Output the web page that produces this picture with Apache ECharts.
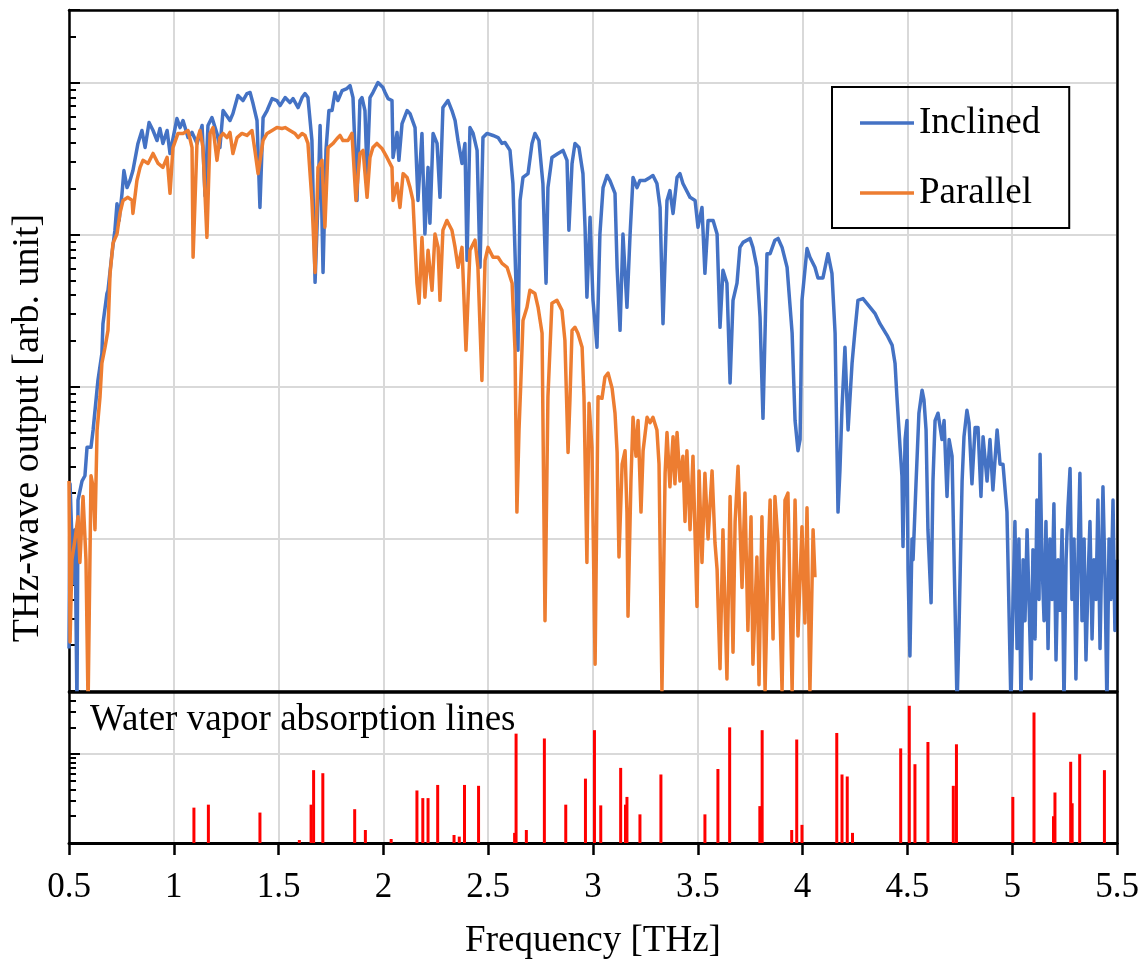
<!DOCTYPE html>
<html><head><meta charset="utf-8">
<script src="https://cdn.jsdelivr.net/npm/echarts@6/dist/echarts.min.js"></script>
<style>html,body{margin:0;padding:0;background:#fff}#c{width:1144px;height:965px}</style>
</head><body><div id="c"></div>
<script>
// ---------- data ----------
const freqInclined = [0.500,0.505,0.514,0.519,0.529,0.538,0.543,0.562,0.576,0.586,0.605,0.615,0.638,0.657,0.662,0.681,0.686,0.705,0.719,0.729,0.739,0.753,0.762,0.777,0.791,0.805,0.829,0.848,0.863,0.882,0.901,0.920,0.934,0.948,0.968,0.982,1.015,1.030,1.044,1.068,1.087,1.111,1.135,1.149,1.163,1.182,1.206,1.220,1.235,1.268,1.282,1.306,1.330,1.349,1.364,1.378,1.397,1.411,1.426,1.445,1.469,1.492,1.507,1.531,1.554,1.569,1.593,1.612,1.626,1.640,1.659,1.674,1.688,1.698,1.712,1.726,1.740,1.755,1.769,1.783,1.803,1.826,1.841,1.855,1.874,1.888,1.898,1.912,1.922,1.936,1.950,1.974,1.998,2.008,2.022,2.041,2.046,2.065,2.074,2.089,2.113,2.127,2.151,2.165,2.184,2.198,2.213,2.222,2.237,2.256,2.270,2.284,2.308,2.327,2.342,2.356,2.375,2.389,2.399,2.413,2.428,2.447,2.461,2.475,2.494,2.523,2.547,2.566,2.580,2.604,2.618,2.642,2.652,2.666,2.690,2.709,2.723,2.742,2.761,2.776,2.785,2.804,2.833,2.857,2.876,2.885,2.900,2.914,2.933,2.952,2.962,2.971,2.986,3.000,3.019,3.033,3.048,3.067,3.081,3.105,3.115,3.129,3.143,3.162,3.177,3.191,3.210,3.224,3.248,3.272,3.286,3.305,3.320,3.334,3.353,3.367,3.382,3.401,3.415,3.429,3.463,3.487,3.501,3.520,3.534,3.549,3.573,3.592,3.606,3.620,3.639,3.654,3.668,3.687,3.701,3.716,3.749,3.763,3.782,3.797,3.811,3.830,3.845,3.868,3.883,3.902,3.926,3.950,3.964,3.978,3.988,3.997,4.021,4.035,4.059,4.073,4.097,4.121,4.140,4.155,4.169,4.178,4.188,4.202,4.217,4.236,4.250,4.264,4.288,4.322,4.345,4.369,4.403,4.427,4.441,4.450,4.465,4.474,4.479,4.489,4.498,4.503,4.512,4.522,4.527,4.541,4.555,4.570,4.579,4.589,4.598,4.613,4.622,4.632,4.646,4.665,4.675,4.689,4.699,4.713,4.723,4.737,4.746,4.761,4.770,4.784,4.794,4.808,4.823,4.837,4.851,4.861,4.880,4.894,4.908,4.928,4.942,4.956,4.975,4.980,4.994,5.004,5.013,5.023,5.032,5.042,5.052,5.061,5.071,5.080,5.090,5.099,5.109,5.118,5.128,5.133,5.142,5.152,5.161,5.171,5.180,5.190,5.199,5.209,5.219,5.228,5.238,5.247,5.257,5.266,5.276,5.285,5.295,5.304,5.314,5.323,5.333,5.343,5.352,5.362,5.371,5.381,5.390,5.400,5.409,5.419,5.433,5.443,5.452,5.462,5.471,5.481,5.490,5.500];
const inclined = [0.00019,0.0023,0.001,0.00051,0.00115,0.00008,0.0018,0.0024,0.0026,0.004,0.004,0.0052,0.011,0.0166,0.026,0.041,0.043,0.075,0.107,0.160,0.124,0.187,0.264,0.204,0.227,0.264,0.398,0.484,0.374,0.546,0.484,0.416,0.499,0.398,0.484,0.342,0.58,0.506,0.563,0.435,0.47,0.398,0.522,0.18,0.522,0.589,0.463,0.374,0.655,0.563,0.625,0.822,0.762,0.847,0.86,0.728,0.563,0.151,0.589,0.655,0.785,0.762,0.706,0.797,0.739,0.785,0.685,0.797,0.847,0.797,0.416,0.0486,0.168,0.522,0.0565,0.358,0.655,0.655,0.86,0.762,0.886,0.913,0.955,0.797,0.168,0.762,0.797,0.655,0.252,0.797,0.86,1.0,0.927,0.86,0.785,0.762,0.322,0.47,0.308,0.538,0.655,0.625,0.506,0.168,0.463,0.101,0.277,0.119,0.463,0.398,0.176,0.685,0.762,0.655,0.563,0.416,0.294,0.398,0.0678,0.506,0.463,0.358,0.061,0.435,0.463,0.449,0.435,0.398,0.404,0.358,0.217,0.0174,0.168,0.238,0.252,0.398,0.463,0.416,0.217,0.048,0.204,0.322,0.342,0.358,0.308,0.107,0.294,0.398,0.374,0.252,0.112,0.0388,0.13,0.037,0.0182,0.101,0.204,0.245,0.227,0.187,0.061,0.0235,0.101,0.0333,0.101,0.238,0.204,0.227,0.227,0.238,0.245,0.217,0.151,0.026,0.168,0.195,0.138,0.238,0.252,0.217,0.176,0.168,0.112,0.151,0.0557,0.124,0.124,0.101,0.0246,0.0583,0.048,0.0106,0.037,0.048,0.0825,0.089,0.0945,0.0825,0.061,0.0287,0.0062,0.075,0.075,0.092,0.0945,0.0825,0.061,0.0225,0.006,0.0038,0.0045,0.037,0.081,0.071,0.061,0.052,0.052,0.075,0.0557,0.0225,0.0015,0.0028,0.0073,0.0182,0.0052,0.0143,0.0235,0.037,0.038,0.0333,0.0304,0.026,0.0218,0.0188,0.0143,0.0086,0.004,0.0026,0.00089,0.0045,0.006,0.00063,0.00017,0.001,0.00073,0.0023,0.0067,0.0095,0.0082,0.0052,0.00115,0.00038,0.0024,0.006,0.0067,0.0045,0.006,0.0019,0.0045,0.0035,0.0007,0.00008,0.00025,0.0024,0.0047,0.007,0.0058,0.0023,0.0054,0.0054,0.0019,0.0047,0.0024,0.0045,0.0021,0.0052,0.0031,0.0031,0.0015,0.0007,0.00008,0.0004,0.0013,0.00019,0.001,0.00008,0.00073,0.00029,0.00115,0.0004,0.00012,0.00085,0.00022,0.0018,0.0004,0.0036,0.00073,0.00029,0.0013,0.00019,0.001,0.0004,0.0017,0.00016,0.00073,0.00034,0.00115,0.00008,0.00073,0.0016,0.0029,0.0004,0.001,0.00012,0.00073,0.0027,0.00029,0.001,0.00016,0.00054,0.0013,0.00022,0.00073,0.0004,0.0018,0.00019,0.0022,0.00054,0.00008,0.001,0.0004,0.0018,0.00025,0.00073];

const freqParallel = [0.500,0.505,0.514,0.529,0.543,0.552,0.567,0.581,0.591,0.600,0.605,0.615,0.624,0.634,0.648,0.657,0.672,0.686,0.696,0.710,0.729,0.743,0.758,0.781,0.801,0.805,0.824,0.839,0.853,0.877,0.901,0.925,0.948,0.968,0.982,0.996,1.020,1.044,1.068,1.087,1.092,1.111,1.125,1.139,1.158,1.173,1.187,1.206,1.220,1.235,1.254,1.268,1.282,1.302,1.325,1.349,1.373,1.387,1.402,1.426,1.445,1.469,1.492,1.516,1.531,1.554,1.578,1.593,1.612,1.626,1.640,1.659,1.674,1.688,1.707,1.721,1.736,1.760,1.779,1.793,1.807,1.831,1.850,1.869,1.888,1.903,1.922,1.936,1.950,1.969,1.993,2.017,2.041,2.046,2.065,2.079,2.094,2.113,2.127,2.141,2.160,2.170,2.184,2.198,2.213,2.232,2.246,2.261,2.270,2.284,2.303,2.327,2.342,2.356,2.375,2.394,2.413,2.437,2.451,2.470,2.485,2.499,2.523,2.547,2.566,2.590,2.614,2.628,2.637,2.647,2.656,2.666,2.685,2.699,2.723,2.738,2.757,2.771,2.785,2.804,2.828,2.852,2.866,2.881,2.890,2.900,2.914,2.928,2.948,2.957,2.971,2.981,2.995,3.010,3.024,3.043,3.057,3.072,3.091,3.105,3.115,3.124,3.139,3.153,3.162,3.167,3.181,3.191,3.205,3.215,3.229,3.239,3.258,3.272,3.286,3.305,3.315,3.329,3.344,3.353,3.367,3.382,3.391,3.401,3.415,3.429,3.439,3.448,3.463,3.477,3.496,3.506,3.520,3.534,3.549,3.568,3.582,3.592,3.606,3.620,3.639,3.654,3.668,3.678,3.692,3.711,3.725,3.739,3.754,3.763,3.782,3.792,3.806,3.821,3.835,3.845,3.859,3.868,3.883,3.902,3.916,3.930,3.950,3.964,3.978,3.997,4.011,4.021,4.035,4.050,4.059];
const parallel = [0.0024,0.00021,0.00073,0.001,0.0014,0.0007,0.0019,0.00073,0.00008,0.00008,0.0026,0.0022,0.00115,0.0052,0.0086,0.0143,0.0182,0.0235,0.0557,0.088,0.101,0.138,0.168,0.176,0.168,0.138,0.227,0.277,0.308,0.294,0.342,0.294,0.277,0.322,0.187,0.374,0.463,0.463,0.484,0.374,0.071,0.416,0.484,0.374,0.096,0.463,0.506,0.308,0.435,0.463,0.435,0.47,0.342,0.435,0.463,0.449,0.484,0.358,0.252,0.416,0.463,0.484,0.506,0.499,0.506,0.484,0.463,0.435,0.463,0.449,0.398,0.168,0.0565,0.277,0.308,0.112,0.374,0.398,0.429,0.449,0.416,0.416,0.463,0.168,0.342,0.358,0.176,0.322,0.374,0.398,0.369,0.322,0.277,0.168,0.217,0.151,0.252,0.238,0.204,0.168,0.048,0.0354,0.096,0.0388,0.079,0.0431,0.101,0.0825,0.037,0.107,0.124,0.107,0.0825,0.061,0.0825,0.0174,0.079,0.092,0.061,0.011,0.0678,0.0825,0.071,0.071,0.0648,0.061,0.048,0.0174,0.0015,0.0052,0.011,0.0273,0.0333,0.0431,0.041,0.0333,0.0225,0.00029,0.0086,0.0354,0.037,0.0318,0.0202,0.0037,0.0082,0.0235,0.0246,0.0225,0.0182,0.0086,0.0007,0.0078,0.004,0.00015,0.0086,0.0084,0.0116,0.0123,0.0098,0.0067,0.0037,0.00076,0.0031,0.0038,0.0015,0.00031,0.0024,0.0063,0.0035,0.006,0.0015,0.0038,0.0063,0.0058,0.0063,0.0052,0.0031,0.0001,0.0027,0.005,0.0022,0.0047,0.0023,0.005,0.0024,0.0035,0.0013,0.0038,0.00115,0.0035,0.00036,0.0028,0.0007,0.0027,0.001,0.0028,0.00094,0.00063,0.00014,0.00115,0.00012,0.0019,0.00018,0.0013,0.003,0.00048,0.002,0.00025,0.0014,0.00015,0.00076,0.00011,0.0014,0.0001,0.00073,0.0018,0.00022,0.0019,0.00094,0.0001,0.0018,0.002,0.0001,0.0018,0.00023,0.0012,0.00028,0.0016,0.0001,0.00115,0.00056];

const waterLineFreq = [1.096,1.165,1.411,1.599,1.655,1.667,1.711,1.863,1.914,2.037,2.160,2.188,2.213,2.259,2.337,2.362,2.387,2.454,2.626,2.633,2.682,2.768,2.870,2.964,3.007,3.037,3.132,3.155,3.162,3.224,3.324,3.534,3.596,3.652,3.796,3.807,3.948,3.972,3.997,4.163,4.188,4.213,4.238,4.468,4.509,4.536,4.598,4.719,4.734,5.003,5.104,5.197,5.204,5.279,5.286,5.322,5.440];
const waterLineStrength = [2.5,2.7,2.2,1.08,2.7,6.6,6.1,2.4,1.4,1.11,3.9,3.2,3.2,4.5,1.23,1.18,4.5,4.4,1.3,17,1.4,15,2.7,5.3,18.6,2.65,7.0,2.7,3.3,2.1,5.9,2.1,6.8,20,2.6,18.6,1.4,14.6,1.6,17.3,5.9,5.6,1.3,11.6,35,7.7,13.7,4.4,12.9,3.3,29.4,2.0,3.7,8.2,2.8,10,6.6];

const seriesNames = ['Inclined', 'Parallel'];
const xTitle = 'Frequency [THz]';
const yTitle = 'THz-wave output [arb. unit]';
const panelLabel = 'Water vapor absorption lines';

// ---------- chart ----------
const FONT = '"Liberation Serif", "Times New Roman", serif';
const BLUE = '#4472C4', ORANGE = '#ED7D31', RED = '#FF0000';
const pair = (xs, ys) => xs.map((x, i) => [x, ys[i]]);
const gridLine = {show: true, lineStyle: {color: '#d9d9d9', width: 2}};
const blackLine = (w) => ({show: true, onZero: false, lineStyle: {color: '#000', width: w}});
const boxAxisX = (g) => ({gridIndex: g, type: 'value', position: 'top', min: 0, max: 1, z: 6,
  axisLine: blackLine(2.5), axisTick: {show: false}, axisLabel: {show: false}, splitLine: {show: false}});
const boxAxisY = (g) => ({gridIndex: g, type: 'value', position: 'right', min: 0, max: 1, z: 6,
  axisLine: blackLine(2.5), axisTick: {show: false}, axisLabel: {show: false}, splitLine: {show: false}});

const chart = echarts.init(document.getElementById('c'), null, {renderer: 'canvas', width: 1144, height: 965});
chart.setOption({
  animation: false,
  backgroundColor: '#fff',
  grid: [
    {left: 69, top: 10, right: 27, height: 681},
    {left: 69, top: 692, right: 27, height: 151}
  ],
  xAxis: [
    {gridIndex: 0, type: 'value', min: 0.5, max: 5.5, interval: 0.5, z: 0,
     axisLine: blackLine(2.5), axisTick: {show: false}, axisLabel: {show: false}, splitLine: gridLine},
    {gridIndex: 1, type: 'value', min: 0.5, max: 5.5, interval: 0.5, z: 0,
     axisLine: blackLine(3), axisTick: {show: true, inside: false, length: 12, lineStyle: {color: '#000', width: 2.5}},
     axisLabel: {show: true, margin: 27, fontFamily: FONT, fontSize: 35, color: '#000'},
     splitLine: gridLine,
     name: xTitle, nameLocation: 'middle', nameGap: 80,
     nameTextStyle: {fontFamily: FONT, fontSize: 37, color: '#000'}},
    boxAxisX(0), boxAxisX(1)
  ],
  yAxis: [
    {gridIndex: 0, type: 'log', logBase: 10, min: 1e-4, max: 3, z: 0,
     axisLine: blackLine(2.5),
     axisTick: {show: true, inside: true, length: 11, lineStyle: {color: '#000', width: 2}},
     minorTick: {show: true, splitNumber: 9, length: 7, lineStyle: {color: '#000', width: 2}},
     axisLabel: {show: false}, splitLine: gridLine, minorSplitLine: {show: false}},
    {gridIndex: 1, type: 'log', logBase: 10, min: 1, max: 50, z: 0,
     axisLine: blackLine(2.5),
     axisTick: {show: true, inside: true, length: 11, lineStyle: {color: '#000', width: 2}},
     minorTick: {show: true, splitNumber: 9, length: 7, lineStyle: {color: '#000', width: 2}},
     axisLabel: {show: false}, splitLine: gridLine, minorSplitLine: {show: false}},
    boxAxisY(0), boxAxisY(1)
  ],
  legend: {
    data: seriesNames, orient: 'vertical', left: 832, top: 87,
    padding: [16, 29, 15, 28], itemGap: 30, itemWidth: 54, itemHeight: 3.5,
    icon: 'rect', borderColor: '#000', borderWidth: 2, borderRadius: 0,
    selectedMode: false,
    textStyle: {fontFamily: FONT, fontSize: 37, color: '#000', lineHeight: 40}
  },
  graphic: [
    {type: 'text', x: 28, y: 428, rotation: Math.PI / 2, z: 10,
     style: {text: yTitle, font: '38px ' + FONT, fill: '#000', align: 'center', verticalAlign: 'middle',
             textAlign: 'center', textVerticalAlign: 'middle'}},
    {type: 'text', x: 90, y: 720, z: 10,
     style: {text: panelLabel, font: '37px ' + FONT, fill: '#000', align: 'left', verticalAlign: 'middle',
             textAlign: 'left', textVerticalAlign: 'middle'}}
  ],
  series: [
    {name: seriesNames[0], type: 'line', xAxisIndex: 0, yAxisIndex: 0, data: pair(freqInclined, inclined),
     showSymbol: false, symbol: 'none', lineStyle: {color: BLUE, width: 3.5, join: 'round'}, itemStyle: {color: BLUE}, z: 3},
    {name: seriesNames[1], type: 'line', xAxisIndex: 0, yAxisIndex: 0, data: pair(freqParallel, parallel),
     showSymbol: false, symbol: 'none', lineStyle: {color: ORANGE, width: 3.5, join: 'round'}, itemStyle: {color: ORANGE}, z: 4},
    {name: 'Water vapor', type: 'bar', xAxisIndex: 1, yAxisIndex: 1, data: pair(waterLineFreq, waterLineStrength),
     barWidth: 3, itemStyle: {color: RED}, z: 3}
  ]
});
</script></body></html>
